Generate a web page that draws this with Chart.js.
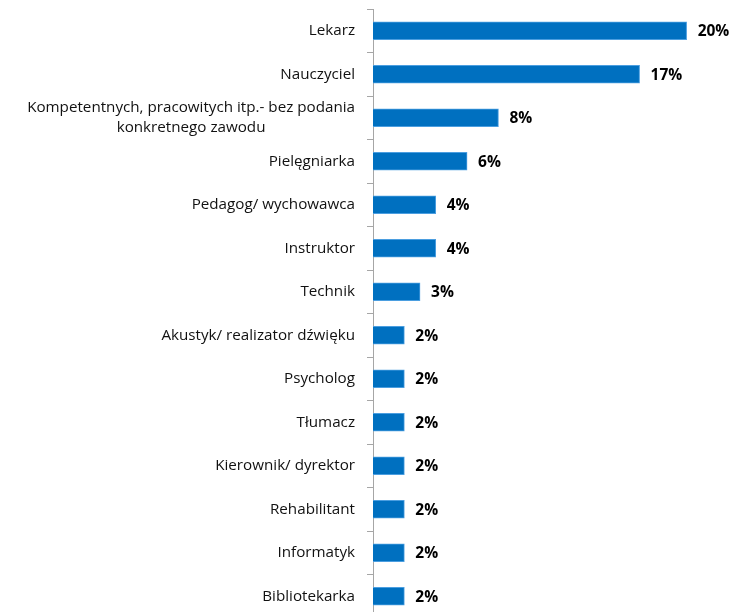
<!DOCTYPE html>
<html>
<head>
<meta charset="utf-8">
<script src="https://cdn.jsdelivr.net/npm/chart.js@4/dist/chart.umd.min.js"></script>
<style>
    html, body { margin: 0; padding: 0; background: #fff; overflow: hidden; }
    #wrap { width: 733px; height: 620px; }
</style>
</head>
<body>
<div id="wrap"><canvas id="chart"></canvas></div>
<script>
    var categories = [
        "Lekarz",
        "Nauczyciel",
        ["Kompetentnych, pracowitych itp.- bez podania", "konkretnego zawodu"],
        "Pielęgniarka",
        "Pedagog/ wychowawca",
        "Instruktor",
        "Technik",
        "Akustyk/ realizator dźwięku",
        "Psycholog",
        "Tłumacz",
        "Kierownik/ dyrektor",
        "Rehabilitant",
        "Informatyk",
        "Bibliotekarka"
    ];
    var values = [20, 17, 8, 6, 4, 4, 3, 2, 2, 2, 2, 2, 2, 2];
    var valueLabels = ["20%", "17%", "8%", "6%", "4%", "4%", "3%", "2%", "2%", "2%", "2%", "2%", "2%", "2%"];

    var labelFont = "15.2px 'Open Sans', sans-serif";
    var valueFont = "bold 15.5px 'Open Sans', sans-serif";

    // category names and value labels, drawn like the office chart does it
    var textPlugin = {
        id: 'texts',
        afterDraw: function (chart) {
            var ctx = chart.ctx;
            var yScale = chart.scales.y;
            var right = yScale.right - 18;

            ctx.save();
            ctx.fillStyle = '#111';
            ctx.textBaseline = 'middle';
            ctx.font = labelFont;
            for (var i = 0; i < categories.length; i++) {
                var y = yScale.getPixelForValue(i);
                var lab = categories[i];
                if (Array.isArray(lab)) {
                    var maxW = 0;
                    for (var j = 0; j < lab.length; j++) {
                        maxW = Math.max(maxW, ctx.measureText(lab[j]).width);
                    }
                    ctx.textAlign = 'center';
                    var lh = 20;
                    var y0 = y - lh * (lab.length - 1) / 2;
                    for (var k = 0; k < lab.length; k++) {
                        ctx.fillText(lab[k], right - maxW / 2, y0 + k * lh);
                    }
                } else {
                    ctx.textAlign = 'right';
                    ctx.fillText(lab, right, y);
                }
            }

            ctx.font = valueFont;
            ctx.textAlign = 'left';
            ctx.fillStyle = '#000';
            var bars = chart.getDatasetMeta(0).data;
            bars.forEach(function (bar, idx) {
                ctx.fillText(valueLabels[idx], bar.x + 11, bar.y + 1);
            });
            ctx.restore();
        }
    };

    var ctx = document.getElementById('chart').getContext('2d');
    new Chart(ctx, {
        type: 'bar',
        data: {
            labels: categories,
            datasets: [{
                data: values,
                backgroundColor: '#0070C0',
                borderColor: '#4b9ee0',
                borderWidth: 1,
                barThickness: 18
            }]
        },
        options: {
            indexAxis: 'y',
            responsive: true,
            maintainAspectRatio: false,
            animation: false,
            layout: { padding: { top: 9, right: 15, bottom: 2, left: 0 } },
            plugins: {
                legend: { display: false },
                tooltip: { enabled: false }
            },
            scales: {
                x: {
                    display: false,
                    min: 0,
                    max: 22
                },
                y: {
                    ticks: { display: false },
                    grid: {
                        offset: true,
                        drawOnChartArea: false,
                        drawTicks: true,
                        tickLength: 6,
                        color: '#a6a6a6'
                    },
                    border: { color: '#a6a6a6', width: 1 },
                    afterFit: function (scale) {
                        scale.width = 373;
                    }
                }
            }
        },
        plugins: [textPlugin]
    });
</script>
</body>
</html>
